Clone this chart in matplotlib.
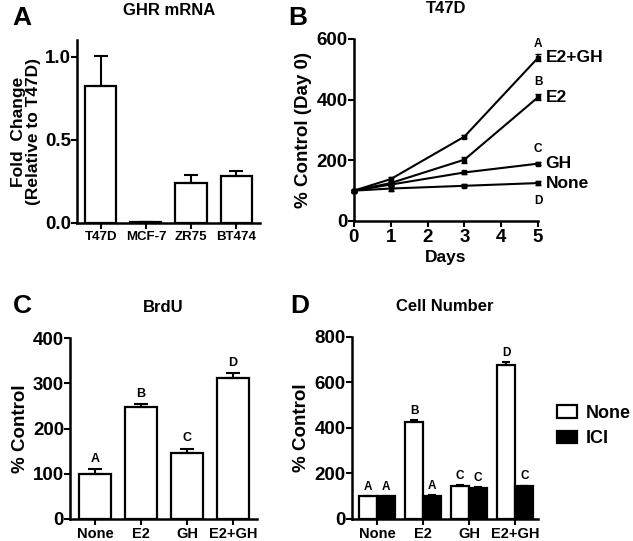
import numpy as np
import matplotlib.pyplot as plt

plt.rcParams['font.family'] = ['Liberation Sans', 'DejaVu Sans']
plt.rcParams['font.weight'] = 'bold'
plt.rcParams['axes.linewidth'] = 1.8
plt.rcParams['xtick.major.width'] = 1.5
plt.rcParams['ytick.major.width'] = 1.5
plt.rcParams['xtick.major.size'] = 4
plt.rcParams['ytick.major.size'] = 4

# A: GHR mRNA
cell_lines = ['T47D', 'MCF-7', 'ZR75', 'BT474']
ghr_mean = [0.826, 0.006, 0.24, 0.28]
ghr_err = [0.18, 0.0, 0.05, 0.03]

# B: T47D growth curves
days = [0, 1, 3, 5]
growth = {
    'E2+GH': [100, 138, 278, 538],
    'E2': [100, 125, 202, 408],
    'GH': [100, 120, 160, 189],
    'None': [100, 107, 116, 125],
}
growth_err = {
    'E2+GH': [3, 8, 6, 12],
    'E2': [3, 6, 10, 10],
    'GH': [3, 6, 6, 6],
    'None': [3, 8, 5, 6],
}
growth_letter = {'E2+GH': 'A', 'E2': 'B', 'GH': 'C', 'None': 'D'}

# C: BrdU
treatments = ['None', 'E2', 'GH', 'E2+GH']
brdu_mean = [100, 247, 145, 311]
brdu_err = [10, 7, 10, 11]
brdu_letters = ['A', 'B', 'C', 'D']

# D: cell number
cell_none = [100, 428, 147, 676]
cell_none_err = [2, 6, 2, 15]
cell_ici = [100, 102, 137, 143]
cell_ici_err = [2, 2, 4, 4]
letters_none = ['A', 'B', 'C', 'D']
letters_ici = ['A', 'A', 'C', 'C']

TICK = 13.5
fig = plt.figure(figsize=(6.33, 5.41), dpi=100)


def style(ax, xsize):
    ax.spines['top'].set_visible(False)
    ax.spines['right'].set_visible(False)
    ax.tick_params(axis='y', labelsize=TICK, pad=0.5)
    ax.tick_params(axis='x', labelsize=xsize, pad=2)
    for lab in ax.get_yticklabels() + ax.get_xticklabels():
        lab.set_fontweight('bold')


# ---- A ----
axA = fig.add_axes([0.122, 0.588, 0.289, 0.338])
x = np.arange(len(cell_lines))
axA.bar(x, ghr_mean, width=0.69, color='white', edgecolor='black', linewidth=1.6)
axA.errorbar(x, ghr_mean, yerr=[np.zeros(4), ghr_err], fmt='none', ecolor='black',
             elinewidth=1.5, capsize=5, capthick=1.5)
axA.set_xlim(-0.52, 3.53)
axA.set_ylim(0, 1.1)
axA.set_yticks([0, 0.5, 1.0])
axA.set_yticklabels(['0.0', '0.5', '1.0'])
axA.set_xticks(x)
axA.set_xticklabels(cell_lines)
style(axA, 9.5)
axA.set_ylabel('Fold  Change\n(Relative to T47D)', fontsize=12.5, fontweight='bold',
               labelpad=3, linespacing=1.0)
axA.set_title('GHR mRNA', fontsize=12, fontweight='bold', pad=18)
fig.text(0.019, 0.988, 'A', fontsize=19, fontweight='bold', va='top')

# ---- B ----
axB = fig.add_axes([0.559, 0.5915, 0.291, 0.3365])
for name in growth:
    axB.errorbar(days, growth[name], yerr=growth_err[name], color='black', lw=1.5,
                 marker='s', ms=3.5, capsize=2.5, elinewidth=1.2, clip_on=False,
                 zorder=3)
    axB.text(5.2, growth[name][-1], name, fontsize=12.5, fontweight='bold', va='center')
axB.text(5, 565, 'A', fontsize=8.5, fontweight='bold', ha='center', va='bottom')
axB.text(5, 438, 'B', fontsize=8.5, fontweight='bold', ha='center', va='bottom')
axB.text(5, 216, 'C', fontsize=8.5, fontweight='bold', ha='center', va='bottom')
axB.text(5, 85, 'D', fontsize=8.5, fontweight='bold', ha='center', va='top')
axB.set_xlim(0, 5)
axB.set_ylim(0, 600)
axB.set_xticks(range(6))
axB.set_yticks([0, 200, 400, 600])
style(axB, TICK)
axB.set_xlabel('Days', fontsize=12.5, fontweight='bold', labelpad=3)
axB.set_ylabel('% Control (Day 0)', fontsize=13.5, fontweight='bold', labelpad=3)
axB.set_title('T47D', fontsize=12, fontweight='bold', pad=19)
fig.text(0.455, 0.988, 'B', fontsize=19, fontweight='bold', va='top')

# ---- C ----
axC = fig.add_axes([0.111, 0.0407, 0.295, 0.3343])
x = np.arange(len(treatments))
axC.bar(x, brdu_mean, width=0.69, color='white', edgecolor='black', linewidth=1.6)
axC.errorbar(x, brdu_mean, yerr=[np.zeros(4), brdu_err], fmt='none', ecolor='black',
             elinewidth=1.5, capsize=5, capthick=1.5)
for xi, m, e, l in zip(x, brdu_mean, brdu_err, brdu_letters):
    axC.text(xi, m + e + 10, l, fontsize=9, fontweight='bold', ha='center', va='bottom')
axC.set_xlim(-0.54, 3.52)
axC.set_ylim(0, 400)
axC.set_yticks([0, 100, 200, 300, 400])
axC.set_xticks(x)
axC.set_xticklabels(treatments)
style(axC, 10.5)
axC.set_ylabel('% Control', fontsize=13.5, fontweight='bold', labelpad=3)
axC.set_title('BrdU', fontsize=12, fontweight='bold', pad=19)
fig.text(0.021, 0.457, 'C', fontsize=19, fontweight='bold', va='top')

# ---- D ----
axD = fig.add_axes([0.556, 0.0407, 0.294, 0.3364])
w = 0.39
axD.bar(x - w / 2, cell_none, width=w, color='white', edgecolor='black', linewidth=1.6,
        label='None')
axD.bar(x + w / 2, cell_ici, width=w, color='black', edgecolor='black', linewidth=1.6,
        label='ICI')
axD.errorbar(x - w / 2, cell_none, yerr=[np.zeros(4), cell_none_err], fmt='none',
             ecolor='black', elinewidth=1.5, capsize=3, capthick=1.5)
axD.errorbar(x + w / 2, cell_ici, yerr=[np.zeros(4), cell_ici_err], fmt='none',
             ecolor='black', elinewidth=1.5, capsize=3, capthick=1.5)
for xi, m, e, l in zip(x - w / 2, cell_none, cell_none_err, letters_none):
    axD.text(xi, m + e + 14, l, fontsize=8.5, fontweight='bold', ha='center', va='bottom')
for xi, m, e, l in zip(x + w / 2, cell_ici, cell_ici_err, letters_ici):
    axD.text(xi, m + e + 14, l, fontsize=8.5, fontweight='bold', ha='center', va='bottom')
axD.set_xlim(-0.54, 3.49)
axD.set_ylim(0, 800)
axD.set_yticks([0, 200, 400, 600, 800])
axD.set_xticks(x)
axD.set_xticklabels(treatments)
style(axD, 10.5)
axD.set_ylabel('% Control', fontsize=13.5, fontweight='bold', labelpad=3)
axD.set_title('Cell Number', fontsize=12, fontweight='bold', pad=19)
fig.text(0.458, 0.457, 'D', fontsize=19, fontweight='bold', va='top')
axD.legend(loc='center left', bbox_to_anchor=(1.1, 0.51), frameon=False,
           prop={'size': 13, 'weight': 'bold'}, handlelength=1.1, handleheight=0.7,
           handletextpad=0.5, labelspacing=0.45, borderaxespad=0, borderpad=0)

fig.savefig('out.png', dpi=100)
